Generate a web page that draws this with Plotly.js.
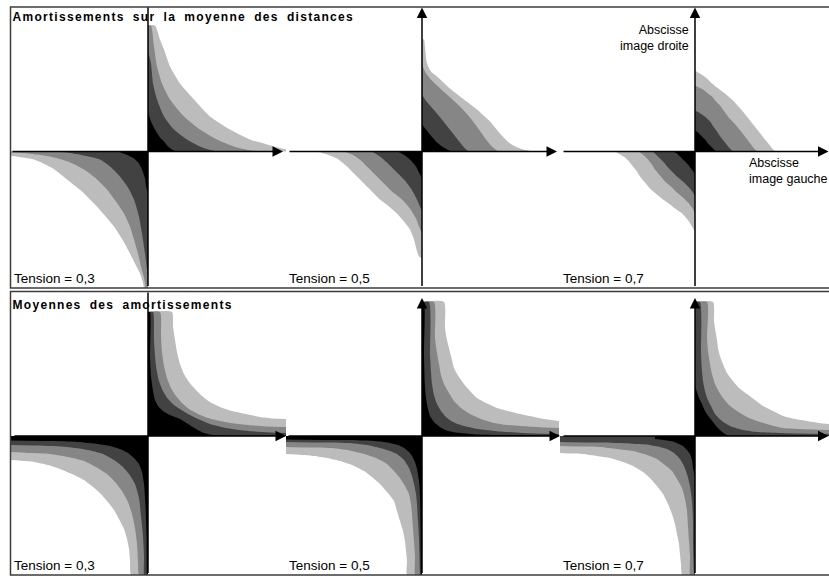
<!DOCTYPE html>
<html><head><meta charset="utf-8">
<script src="https://cdn.plot.ly/plotly-3.0.1.min.js"></script>
<style>
body{margin:0;padding:0;background:#fff}
#chart{width:829px;height:577px}
.infolayer g.annotation[data-index="0"] text.annotation-text,
.infolayer g.annotation[data-index="1"] text.annotation-text{letter-spacing:1.3px;word-spacing:3.5px}
</style>
</head><body><div id="chart"></div>
<script>
// ---------- DATA (band outer boundaries; x,y relative to axes crossing) ----------
const panelTitles = ['Amortissements sur la moyenne des distances', 'Moyennes des amortissements'];
const tensionLabels = ['Tension = 0,3', 'Tension = 0,5', 'Tension = 0,7'];
const axisLabelRight = ['Abscisse', 'image droite'];
const axisLabelLeft = ['Abscisse', 'image gauche'];
const bandNames = ['light', 'gray', 'dark', 'black'];

// Top panel, tension 0.3
const A3_UR_light = [[0,126],[7,126],[12,112],[16,102],[22,85],[32,68],[46,52],[62,35],[82,22],[102,12],[119,7],[130,4],[138,2]];
const A3_UR_gray  = [[0,126],[3,126],[6,105],[9,85],[14,68],[22,52],[36,35],[52,22],[69,12],[86,5],[100,1.5],[112,0]];
const A3_UR_dark  = [[0,100],[3,88],[5,68],[9,52],[16,35],[26,22],[39,12],[52,5],[62,1.5],[70,0]];
const A3_UR_black = [[0,40],[3,30],[7,22],[12,14],[16,10],[20,5],[24,2],[28,0]];
const A3_LL_light = [[-138,-4],[-114,-8],[-95,-17],[-81,-28],[-66,-40],[-54,-52],[-44,-63],[-34,-75],[-25,-89],[-18,-102],[-12,-114],[-8,-122],[-5,-131],[-4,-137],[0,-150]];
const A3_LL_gray  = [[-138,-1],[-120,-2],[-98,-5],[-80,-10],[-64,-18],[-52,-27],[-41,-38],[-32,-50],[-24,-62],[-18,-75],[-14,-88],[-10,-102],[-7,-115],[-4,-126],[-2,-137],[0,-150]];
const A3_LL_dark  = [[-100,0],[-81,-1],[-64,-4],[-48,-8],[-38,-15],[-28,-25],[-20,-36],[-14,-48],[-9,-65],[-6,-82],[-3,-102],[-1,-118],[0,-125]];
const A3_LL_black = [[-30,0],[-22,-3],[-14,-7],[-9,-12],[-6,-18],[-3,-27],[-2,-35],[0,-42]];

// Top panel, tension 0.5
const A5_UR_light = [[0,112],[2,112],[3,104],[5,88],[9,80],[15,75],[28,63],[42,52],[55,42],[68,30],[78,18],[88,8],[98,3],[108,0.5],[112,0]];
const A5_UR_gray  = [[0,87],[3,80],[8,73],[15,66],[26,56],[38,45],[48,34],[57,22],[64,12],[70,5],[75,1],[78,0]];
const A5_UR_dark  = [[0,57],[3,52],[8,46],[15,38],[23,28],[31,18],[38,9],[43,3],[47,0]];
const A5_UR_black = [[0,27],[4,22],[8,17],[14,10],[20,5],[26,1.5],[30,0]];
const A5_LL_light = [[-105,0],[-95,-3],[-85,-7],[-75,-15],[-65,-25],[-54,-36],[-42,-48],[-33,-55],[-25,-62],[-18,-70],[-12,-78],[-8,-88],[-6,-96],[-3,-105],[0,-107]];
const A5_LL_gray  = [[-78,0],[-68,-4],[-60,-10],[-50,-20],[-40,-30],[-30,-40],[-20,-48],[-12,-57],[-6,-67],[-3,-75],[0,-82]];
const A5_LL_dark  = [[-50,0],[-42,-5],[-34,-12],[-26,-20],[-18,-28],[-11,-37],[-6,-46],[-2,-55],[0,-60]];
const A5_LL_black = [[-24,0],[-17,-4],[-11,-9],[-6,-15],[-3,-21],[0,-27]];

// Top panel, tension 0.7
const A7_UR_light = [[0,81],[3,79],[8,76],[12,73],[17,68],[22,64],[30,58],[38,51],[47,41],[55,31],[63,21],[70,12],[75,6],[78,2],[81,0]];
const A7_UR_gray  = [[0,66],[4,64],[8,62],[13,58],[17,55],[21,50],[25,46],[33,35],[42,25],[50,15],[56,7],[60,2],[63,0]];
const A7_UR_dark  = [[0,41],[4,39],[7,37],[11,34],[15,30],[19,24],[22,20],[26,14],[30,9],[34,4],[37,1],[40,0]];
const A7_UR_black = [[0,21],[3,19],[6,16],[10,12],[13,8],[16,5],[19,2],[21,0]];
const A7_LL_light = [[-80,0],[-75,-3],[-70,-6],[-66,-10],[-62,-15],[-58,-20],[-55,-25],[-50,-31],[-45,-37],[-38,-43],[-32,-48],[-25,-53],[-20,-57],[-14,-61],[-10,-65],[-6,-70],[-3,-75],[0,-80]];
const A7_LL_gray  = [[-56,0],[-51,-4],[-47,-8],[-43,-13],[-40,-18],[-35,-24],[-30,-30],[-24,-35],[-18,-41],[-12,-46],[-7,-51],[-3,-56],[0,-62]];
const A7_LL_dark  = [[-42,0],[-38,-4],[-35,-7],[-31,-11],[-27,-16],[-22,-21],[-18,-25],[-12,-30],[-6,-36],[-2,-41],[0,-45]];
const A7_LL_black = [[-22,0],[-18,-2],[-15,-5],[-11,-9],[-7,-13],[-4,-17],[-1,-21],[0,-23]];

// Bottom panel, tension 0.3
const B3_UR_light = [[0,124],[24,124],[25,110],[27,96],[29,84],[32,72],[36,62],[41,54],[47,47],[54,40],[62,34],[72,29],[84,25],[98,22],[112,19],[125,17.5],[138,17]];
const B3_UR_gray  = [[0,124],[12,124],[13,100],[14,84],[16,70],[19,58],[23,48],[28,40],[34,33],[41,27],[50,22],[60,18],[72,15],[86,12.5],[100,11],[118,9.5],[138,9]];
const B3_UR_dark  = [[0,124],[5,124],[6,95],[8,70],[11,55],[15,45],[20,37],[26,31],[32,27],[40,22],[50,17],[62,12],[78,8],[95,5.5],[115,4],[138,3]];
const B3_UR_black = [[0,124],[2,124],[2,80],[3,60],[5,45],[7,36],[10,30],[15,25],[22,21],[32,17],[40,12],[48,7],[56,3],[65,1],[80,0.5],[138,0.3]];
const B3_LL_light = [[-138,-24],[-125,-25],[-114,-26],[-100,-29],[-88,-33],[-76,-38],[-64,-44],[-55,-51],[-48,-57],[-41,-65],[-34,-74],[-29,-83],[-24,-93],[-21,-103],[-19,-113],[-18,-125],[-17,-139],[0,-150]];
const B3_LL_gray  = [[-138,-16],[-120,-17],[-98,-18],[-80,-21],[-64,-25],[-52,-31],[-41,-38],[-33,-46],[-26,-55],[-20,-66],[-16,-78],[-13,-92],[-11,-108],[-10,-125],[-9,-139],[0,-150]];
const B3_LL_dark  = [[-138,-9],[-110,-9.5],[-81,-11],[-60,-14],[-45,-18],[-34,-24],[-26,-30],[-19,-38],[-13,-48],[-9,-62],[-7,-80],[-5,-100],[-4,-120],[-4,-139],[0,-150]];
const B3_LL_black = [[-138,-4.5],[-100,-5],[-70,-6],[-50,-8],[-38,-10],[-28,-13],[-20,-17],[-14,-22],[-9,-28],[-6,-36],[-4,-48],[-2.5,-70],[-1.5,-100],[-1,-139],[0,-150]];

// Bottom panel, tension 0.5
const B5_UR_light = [[0,134],[22,134],[23,108],[25,96],[27,88],[30,76],[32,68],[37,59],[42,52],[48,45],[55,38],[64,33],[75,28],[86,25],[98,22],[110,19.5],[122,17],[137,15]];
const B5_UR_gray  = [[0,134],[12,134],[13,98],[15,83],[17,72],[19,61],[22,52],[27,43],[32,35],[39,28],[48,22],[59,17],[72,13],[85,11],[98,10],[115,9],[137,8]];
const B5_UR_dark  = [[0,134],[7,134],[8,82],[9,64],[10,52],[12,41],[15,32],[19,25],[25,18],[33,13],[42,10],[56,7],[72,5],[100,3],[137,2]];
const B5_UR_black = [[0,134],[2,134],[2,82],[3,50],[4,38],[6,27],[8,20],[12,14],[18,9],[26,5],[38,3],[55,1.5],[75,1],[137,0.5]];
const B5_LL_light = [[-137,-18],[-120,-19],[-108,-20],[-95,-22],[-82,-25],[-70,-29],[-58,-35],[-50,-41],[-42,-48],[-35,-56],[-28,-65],[-25,-75],[-22,-85],[-19,-95],[-17,-105],[-16,-115],[-15,-125],[-15,-139],[0,-150]];
const B5_LL_gray  = [[-137,-11],[-115,-11.5],[-92,-12],[-75,-14],[-58,-18],[-46,-22],[-35,-28],[-28,-35],[-22,-42],[-17,-50],[-13,-58],[-11,-68],[-10,-78],[-9,-92],[-8,-105],[-7,-120],[-7,-139],[0,-150]];
const B5_LL_dark  = [[-137,-6],[-105,-6.5],[-75,-7],[-55,-9],[-42,-12],[-32,-15],[-25,-18],[-18,-24],[-13,-32],[-10,-40],[-8,-48],[-6,-58],[-5,-68],[-4,-85],[-3,-102],[-2.5,-120],[-2,-139],[0,-150]];
const B5_LL_black = [[-137,-3.5],[-90,-4],[-58,-4.5],[-42,-5.5],[-32,-7],[-24,-9],[-18,-12],[-13,-16],[-10,-20],[-7,-26],[-5,-33],[-3,-45],[-2,-60],[-1.5,-90],[-1,-139],[0,-150]];

// Bottom panel, tension 0.7
const B7_UR_light = [[0,134],[18,134],[19,115],[20,108],[22,96],[23,88],[25,80],[28,72],[32,63],[38,55],[44,48],[52,42],[60,36],[68,30],[78,25],[88,20],[100,17],[112,15],[124,13],[134,12]];
const B7_UR_gray  = [[0,134],[12,134],[12,98],[13,85],[15,72],[17,62],[20,52],[24,44],[28,38],[34,31],[42,25],[52,19],[62,15],[75,11],[88,8],[105,7],[134,6]];
const B7_UR_dark  = [[0,134],[5,134],[6,82],[7,65],[8,55],[10,45],[12,38],[16,30],[20,22],[27,15],[35,10],[48,6],[62,4],[85,3],[134,2]];
const B7_UR_black = [[0,50],[2,44],[4,38],[7,32],[10,25],[14,19],[18,14],[22,9],[26,5],[30,2],[34,0.5],[60,0.3]];
const B7_LL_light = [[-137,-17],[-125,-17.5],[-112,-18],[-98,-20],[-85,-22],[-72,-26],[-62,-30],[-52,-36],[-45,-42],[-38,-50],[-32,-58],[-27,-68],[-23,-78],[-20,-88],[-18,-98],[-16,-108],[-15,-118],[-14,-128],[-13,-139],[0,-150]];
const B7_LL_gray  = [[-137,-10],[-115,-10.5],[-95,-11],[-78,-13],[-62,-15],[-48,-19],[-38,-23],[-30,-29],[-23,-35],[-18,-43],[-13,-52],[-10,-63],[-8,-75],[-7,-90],[-6,-105],[-5,-120],[-5,-139],[0,-150]];
const B7_LL_dark  = [[-137,-6],[-105,-6.5],[-78,-7],[-58,-8],[-45,-9],[-35,-11],[-28,-13],[-21,-17],[-15,-23],[-11,-30],[-8,-38],[-5,-50],[-3,-65],[-2,-85],[-2,-105],[-1,-139],[0,-150]];
const B7_LL_black = [[-40,-3],[-35,-3.5],[-28,-4.5],[-22,-5.5],[-16,-8],[-12,-10],[-8,-14],[-5,-18],[-3,-24],[-2,-32],[0,-41]];

// ---------- STYLE / LAYOUT ----------
const bandColors = ['#bcbcbc', '#868686', '#424242', '#000000'];
const W = 829, H = 577;
const colL = [11, 286, 560], colO = [148, 422, 695], colR = [286, 560, 829];
const rowT = [7, 292], rowO = [151.5, 436], rowB = [288, 575];
const hTail = [[11, 288, 562], [13, 287, 562]];
const hTip  = [[283, 557, 828.5], [286, 560, 828.5]];
const vTip  = [7.5, 298];

const subplots = [
  [[A3_UR_light, A3_UR_gray, A3_UR_dark, A3_UR_black], [A3_LL_light, A3_LL_gray, A3_LL_dark, A3_LL_black]],
  [[A5_UR_light, A5_UR_gray, A5_UR_dark, A5_UR_black], [A5_LL_light, A5_LL_gray, A5_LL_dark, A5_LL_black]],
  [[A7_UR_light, A7_UR_gray, A7_UR_dark, A7_UR_black], [A7_LL_light, A7_LL_gray, A7_LL_dark, A7_LL_black]],
  [[B3_UR_light, B3_UR_gray, B3_UR_dark, B3_UR_black], [B3_LL_light, B3_LL_gray, B3_LL_dark, B3_LL_black]],
  [[B5_UR_light, B5_UR_gray, B5_UR_dark, B5_UR_black], [B5_LL_light, B5_LL_gray, B5_LL_dark, B5_LL_black]],
  [[B7_UR_light, B7_UR_gray, B7_UR_dark, B7_UR_black], [B7_LL_light, B7_LL_gray, B7_LL_dark, B7_LL_black]]
];

const FONT = 'Liberation Sans, Arial, Helvetica, sans-serif';
const traces = [];
const layout = {
  width: W, height: H, margin: {l: 0, r: 0, t: 0, b: 0},
  paper_bgcolor: '#fff', plot_bgcolor: 'rgba(0,0,0,0)', showlegend: false,
  annotations: [], shapes: []
};
const px2fx = p => p / W, py2fy = p => (H - p) / H;
const titleLeft = 12.5;

// panel titles first (CSS letter-spacing targets annotation index 0 and 1)
panelTitles.forEach((t, r) => {
  layout.annotations.push({
    xref: 'paper', yref: 'paper', x: px2fx(titleLeft), y: py2fy(r === 0 ? 17.5 : 304.5),
    xanchor: 'left', yanchor: 'middle', showarrow: false, text: '<b>' + t + '</b>',
    font: {family: FONT, size: 12, color: '#000'}
  });
});

for (let r = 0; r < 2; r++) {
  for (let c = 0; c < 3; c++) {
    const k = r * 3 + c + 1;
    const xa = 'xaxis' + (k === 1 ? '' : k), ya = 'yaxis' + (k === 1 ? '' : k);
    const xr = 'x' + (k === 1 ? '' : k), yr = 'y' + (k === 1 ? '' : k);
    const ox = colO[c], oy = rowO[r];
    layout[xa] = {domain: [px2fx(colL[c]), px2fx(colR[c])], range: [colL[c] - ox, colR[c] - ox],
      visible: false, fixedrange: true, anchor: yr};
    layout[ya] = {domain: [py2fy(rowB[r]), py2fy(rowT[r])], range: [oy - rowB[r], oy - rowT[r]],
      visible: false, fixedrange: true, anchor: xr};
    // shaded bands: upper-right and lower-left quadrants
    subplots[k - 1].forEach(quad => {
      quad.forEach((pts, b) => {
        traces.push({
          type: 'scatter', mode: 'lines', xaxis: xr, yaxis: yr,
          x: pts.map(p => p[0]), y: pts.map(p => p[1]),
          fill: 'tozeroy', fillcolor: bandColors[b],
          line: {width: 0, shape: 'spline', smoothing: 0.6, color: bandColors[b]},
          hoverinfo: 'skip', name: bandNames[b]
        });
      });
    });
    // horizontal axis with arrow
    layout.annotations.push({
      xref: xr, yref: yr, axref: xr, ayref: yr,
      x: hTip[r][c] - ox, y: 0, ax: hTail[r][c] - ox, ay: 0,
      text: '', showarrow: true, arrowhead: 2, arrowsize: 1.4, arrowwidth: 1.5, arrowcolor: '#000', standoff: 0
    });
    // vertical axis
    const bottomPx = rowB[r] - 0.5;
    const topPx = c === 0 ? rowT[r] + 0.5 : vTip[r];
    layout.annotations.push({
      xref: xr, yref: yr, axref: xr, ayref: yr,
      x: 0, y: oy - topPx, ax: 0, ay: oy - bottomPx,
      text: '', showarrow: true, arrowhead: c === 0 ? 0 : 2, arrowsize: 1.4, arrowwidth: 1.5,
      arrowcolor: '#000', standoff: 0
    });
    // tension label
    layout.annotations.push({
      xref: 'paper', yref: 'paper', x: px2fx(colL[c] + 0.5), y: py2fy(r === 0 ? 278.5 : 565),
      xanchor: 'left', yanchor: 'middle', showarrow: false, text: tensionLabels[c],
      font: {family: FONT, size: 13.5, color: '#000'}
    });
  }
}

// axis captions (third subplot of top panel)
layout.annotations.push({xref: 'paper', yref: 'paper', x: px2fx(690.5), y: py2fy(38.5),
  xanchor: 'right', yanchor: 'middle', align: 'right', showarrow: false,
  text: axisLabelRight.join('<br>'), font: {family: FONT, size: 12.5, color: '#000'}});
layout.annotations.push({xref: 'paper', yref: 'paper', x: px2fx(747), y: py2fy(171),
  xanchor: 'left', yanchor: 'middle', align: 'left', showarrow: false,
  text: axisLabelLeft.join('<br>'), font: {family: FONT, size: 12.5, color: '#000'}});

// panel frames
layout.shapes.push({type: 'rect', xref: 'paper', yref: 'paper', layer: 'above',
  x0: px2fx(10.5), x1: 1.01, y0: py2fy(288), y1: py2fy(7), line: {color: '#3c3c3c', width: 1.5}});
layout.shapes.push({type: 'rect', xref: 'paper', yref: 'paper', layer: 'above',
  x0: px2fx(10.5), x1: 1.01, y0: py2fy(575), y1: py2fy(291.5), line: {color: '#3c3c3c', width: 1.5}});

Plotly.newPlot('chart', traces, layout, {staticPlot: true, displayModeBar: false}).then(gd => {
  // letter-spaced bold titles: keep their left edge where the reference puts it
  [0, 1].forEach(i => {
    const t = gd.querySelector('.infolayer g.annotation[data-index="' + i + '"] text.annotation-text');
    if (!t) return;
    const box = t.getBoundingClientRect();
    const host = gd.getBoundingClientRect();
    const dx = (host.left + titleLeft) - box.left;
    const prev = t.getAttribute('transform') || '';
    t.setAttribute('transform', (prev + ' translate(' + dx.toFixed(2) + ',0)').trim());
  });
});
</script></body></html>
